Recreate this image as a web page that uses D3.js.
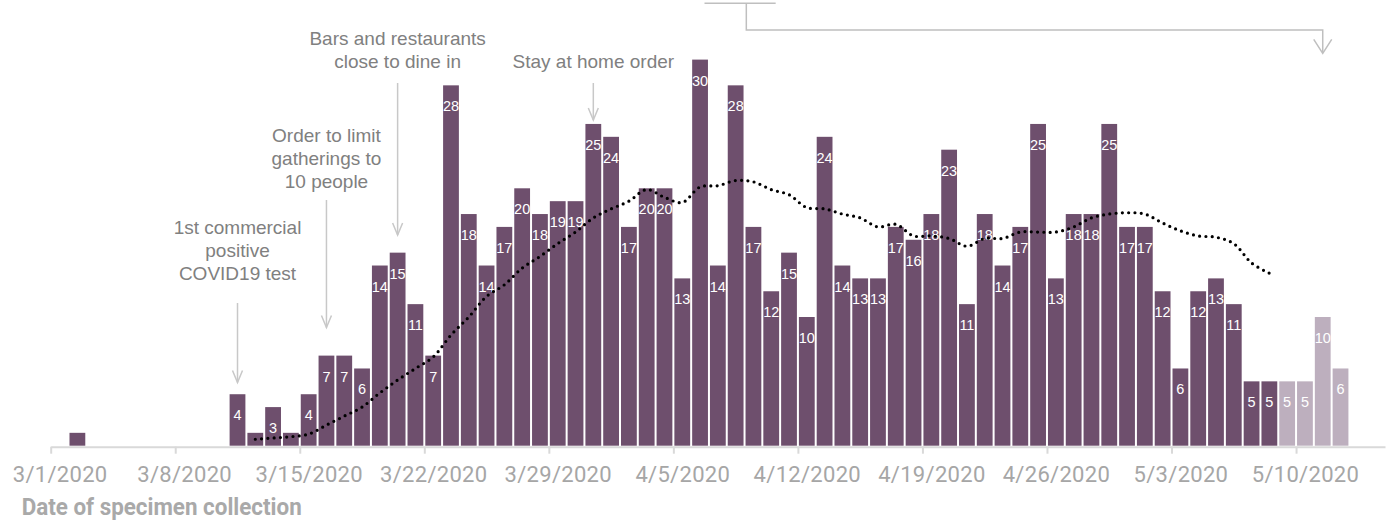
<!DOCTYPE html>
<html>
<head>
<meta charset="utf-8">
<script src="https://cdn.jsdelivr.net/npm/d3@7"></script>
<style>
  body { margin: 0; background: #fff; }
  svg { display: block; }
</style>
</head>
<body>
<svg id="chart"></svg>
<script>
// daily cases by specimen collection date, starting 3/1/2020
const firstDay = "2020-03-01";
const cases = [0, 1, 0, 0, 0, 0, 0, 0, 0, 0,
  4, 1, 3, 1, 4, 7, 7, 6, 14, 15, 11,      // 3/11 - 3/21
  7, 28, 18, 14, 17, 20, 18,               // 3/22 - 3/28
  19, 19, 25, 24, 17, 20, 20,              // 3/29 - 4/4
  13, 30, 14, 28, 17, 12, 15,              // 4/5 - 4/11
  10, 24, 14, 13, 13, 17, 16,              // 4/12 - 4/18
  18, 23, 11, 18, 14, 17, 25,              // 4/19 - 4/25
  13, 18, 18, 25, 17, 17, 12,              // 4/26 - 5/2
  6, 12, 13, 11, 5, 5, 5,                  // 5/3 - 5/9
  5, 10, 6];                               // 5/10 - 5/12
// days from this date on are still incomplete (lighter bars)
const incompleteFrom = "2020-05-09";

// moving average (dotted), from 3/12 to 5/8
const avgStart = "2020-03-12";
const avg = [0.5, 0.6, 0.7, 0.9, 1.6, 2.3, 3.0, 4.1, 5.1, 6.0,
  6.9, 8.6, 10.0, 11.6, 12.5, 13.8, 14.7, 15.7, 16.6, 17.7,
  18.4, 19.0, 19.9, 19.3, 18.9, 20.1, 20.2, 20.6, 20.5, 19.9,
  19.5, 18.5, 18.4, 18.0, 17.7, 17.0, 17.2, 16.3, 16.3, 16.1,
  15.5, 16.1, 16.1, 16.6, 16.6, 16.6, 17.0, 17.7, 18.0, 18.1,
  18.0, 17.3, 16.7, 16.3, 16.2, 15.7, 14.2, 13.4];

const axisTitle = "Date of specimen collection";

const notes = [
  {date: "2020-03-11", lines: ["1st commercial", "positive", "COVID19 test"], textTop: 234, from: 303, to: 382.5, head: 5},
  {date: "2020-03-16", lines: ["Order to limit", "gatherings to", "10 people"], textTop: 142, from: 200, to: 327.5, head: 5},
  {date: "2020-03-20", lines: ["Bars and restaurants", "close to dine in"], textTop: 45, from: 83, to: 235, head: 5},
  {date: "2020-03-31", lines: ["Stay at home order"], textTop: 68, from: 83, to: 120, head: 5}
];

const width = 1393, height = 522;
const parse = d3.utcParse("%Y-%m-%d");
const day0 = parse(firstDay);

const svg = d3.select("#chart").attr("width", width).attr("height", height);

const x = d3.scaleUtc()
  .domain([day0, d3.utcDay.offset(day0, 75)])
  .range([50.7, 1385]);
const dayW = x(d3.utcDay.offset(day0, 1)) - x(day0);

const y = d3.scaleLinear().domain([0, 30]).range([445.7, 59.6]);

const data = cases.map((v, i) => ({date: d3.utcDay.offset(day0, i), v}));
const cut = parse(incompleteFrom);

// bars
svg.append("g").selectAll("rect")
  .data(data.filter(d => d.v > 0))
  .join("rect")
  .attr("x", d => x(d.date) + 1)
  .attr("width", dayW - 2)
  .attr("y", d => y(d.v))
  .attr("height", d => y(0) - y(d.v))
  .attr("fill", d => d.date >= cut ? "#bdafbe" : "#6e4f6d");

// value labels
svg.append("g").selectAll("text")
  .data(data.filter(d => d.v > 1))
  .join("text")
  .attr("x", d => x(d.date) + dayW / 2)
  .attr("y", d => y(d.v) + 26)
  .attr("text-anchor", "middle")
  .attr("fill", "#fff")
  .style("font-family", "'Liberation Sans', Arial, sans-serif")
  .style("font-size", "14.5px")
  .text(d => d.v);

// x axis
const xAxis = d3.axisBottom(x)
  .ticks(d3.utcWeek.every(1))
  .tickFormat(d3.utcFormat("%-m/%-d/%Y"))
  .tickSize(7)
  .tickSizeOuter(0);

const gx = svg.append("g")
  .attr("transform", "translate(0,446.7)")
  .call(xAxis);
gx.select(".domain").attr("stroke", "#d9d9d9").attr("stroke-width", 2);
gx.selectAll(".tick line").attr("stroke", "#d9d9d9").attr("stroke-width", 2);
gx.selectAll(".tick text")
  .attr("x", dayW / 2)
  .attr("y", 35)
  .attr("dy", 0)
  .attr("fill", "#a6a6a6")
  .style("font-family", "Roboto, sans-serif")
  .style("font-size", "22px")
  .style("letter-spacing", "0.3px");

svg.append("text")
  .attr("x", 21.7)
  .attr("y", 515)
  .attr("fill", "#a9a9a9")
  .attr("textLength", 280)
  .attr("lengthAdjust", "spacingAndGlyphs")
  .style("font-family", "Roboto, sans-serif")
  .style("font-weight", "bold")
  .style("font-size", "23px")
  .text(axisTitle);

// moving average, dotted
const a0 = parse(avgStart);
const line = d3.line()
  .x((d, i) => x(d3.utcDay.offset(a0, i)) + dayW / 2)
  .y(d => y(d))
  .curve(d3.curveCatmullRom);

svg.append("path")
  .datum(avg)
  .attr("d", line)
  .attr("fill", "none")
  .attr("stroke", "#000")
  .attr("stroke-width", 3.2)
  .attr("stroke-linecap", "round")
  .attr("stroke-dasharray", "0 6.3");

// annotations
const arrowColor = "#c8c8c8";
const noteG = svg.append("g");
notes.forEach(n => {
  const cx = x(parse(n.date)) + dayW / 2;
  noteG.append("line")
    .attr("x1", cx).attr("x2", cx)
    .attr("y1", n.from).attr("y2", n.to)
    .attr("stroke", arrowColor).attr("stroke-width", 1.5);
  noteG.append("path")
    .attr("d", `M${cx - n.head},${n.to - 12}L${cx},${n.to}L${cx + n.head},${n.to - 12}`)
    .attr("fill", "none").attr("stroke", arrowColor).attr("stroke-width", 1.5);
  n.lines.forEach((t, i) => {
    noteG.append("text")
      .attr("x", cx)
      .attr("y", n.textTop + i * 23)
      .attr("text-anchor", "middle")
      .attr("fill", "#808080")
      .style("font-family", "'Liberation Sans', Arial, sans-serif")
      .style("font-size", "19px")
      .text(t);
  });
});

// bracket at top pointing at the incomplete days
const dayX = k => x(day0) + k * dayW;
const tx = x(parse("2020-05-11")) + dayW / 2;
const bracketColor = "#bfbfbf";
const br = svg.append("g").attr("fill", "none").attr("stroke", bracketColor).attr("stroke-width", 1.5);
br.append("path").attr("d", `M${dayX(36.75)},3.3H${dayX(40.75)}`);
br.append("path").attr("d", `M${dayX(39.1)},3.3V30H${tx}V53`);
br.append("path").attr("d", `M${tx - 9},39.3L${tx},53.3L${tx + 9},39.3`);
</script>
</body>
</html>
